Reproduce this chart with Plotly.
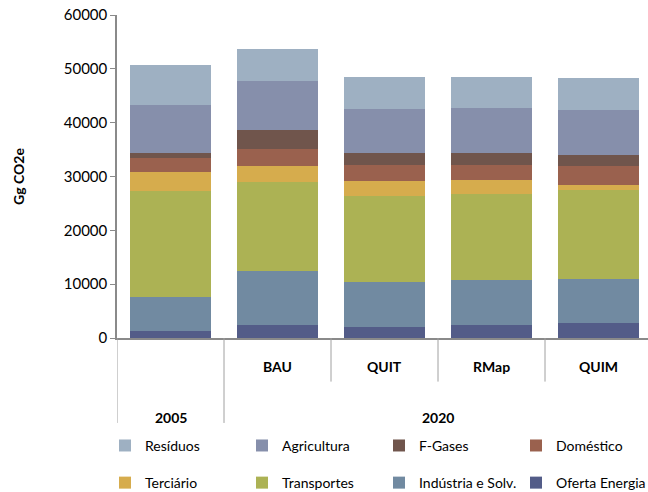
import plotly.graph_objects as go

# ---- data ----
categories = ["2005", "BAU", "QUIT", "RMap", "QUIM"]
inner_labels = ["", "BAU", "QUIT", "RMap", "QUIM"]
group_labels = ["2005", "2020"]
group_members = [["2005"], ["BAU", "QUIT", "RMap", "QUIM"]]

oferta_energia = [1300, 2400, 2000, 2400, 2800]
industria_solv = [6300, 10050, 8400, 8350, 8150]
transportes = [19700, 16530, 16000, 16000, 16550]
terciario = [3500, 2970, 2800, 2600, 930]
domestico = [2700, 3160, 3000, 2800, 3500]
f_gases = [900, 3590, 2200, 2230, 2050]
agricultura = [8900, 9040, 8200, 8350, 8350]
residuos = [7500, 5950, 5950, 5750, 5950]

y_tick_vals = [0, 10000, 20000, 30000, 40000, 50000, 60000]
y_tick_text = ["0", "10000", "20000", "30000", "40000", "50000", "60000"]

series = [
    ("Oferta Energia", oferta_energia, "#535c88", "legend2"),
    ("Indústria e Solv.", industria_solv, "#718aa1", "legend2"),
    ("Transportes", transportes, "#acb254", "legend2"),
    ("Terciário", terciario, "#d6ac4d", "legend2"),
    ("Doméstico", domestico, "#9a614e", "legend"),
    ("F-Gases", f_gases, "#70554c", "legend"),
    ("Agricultura", agricultura, "#868fab", "legend"),
    ("Resíduos", residuos, "#9eb0c2", "legend"),
]

FONT = "Lato, 'Open Sans', sans-serif"

fig = go.Figure()
for name, vals, color, lg in series:
    fig.add_trace(go.Bar(
        x=categories, y=vals, name=name,
        marker=dict(color=color, line=dict(width=0)),
        legend=lg,
    ))

# axis divider lines (multi-level category axis)
n = len(categories)
shapes = []
for i in range(n + 1):
    pos = i - 0.5
    outer = (i == 0) or (i == 1) or (i == n)
    y1 = -0.263 if outer else -0.135
    shapes.append(dict(type="line", xref="x", yref="paper",
                       x0=pos, x1=pos, y0=0, y1=y1,
                       line=dict(color="#a0a0a0", width=1)))

annotations = []
for cat, lab in zip(categories, inner_labels):
    if lab:
        annotations.append(dict(x=cat, y=-0.087, xref="x", yref="paper",
                                text="<b>%s</b>" % lab, showarrow=False,
                                font=dict(family=FONT, size=14, color="#000000"),
                                xanchor="center", yanchor="middle"))
for glab, members in zip(group_labels, group_members):
    idx = [categories.index(m) for m in members]
    center = (min(idx) + max(idx)) / 2.0
    annotations.append(dict(x=center, y=-0.245, xref="x", yref="paper",
                            text="<b>%s</b>" % glab, showarrow=False,
                            font=dict(family=FONT, size=14, color="#000000"),
                            xanchor="center", yanchor="middle"))

fig.update_layout(
    width=648, height=492,
    margin=dict(l=117, r=0, t=15, b=154, autoexpand=False),
    paper_bgcolor="white", plot_bgcolor="white",
    barmode="stack", bargap=0.252,
    font=dict(family=FONT, size=14, color="#000000"),
    showlegend=True,
    legend=dict(orientation="h", x=-0.0226, xanchor="left", y=-0.334, yanchor="middle",
                traceorder="reversed", entrywidth=92, entrywidthmode="pixels",
                font=dict(family=FONT, size=14), bgcolor="rgba(0,0,0,0)"),
    legend2=dict(orientation="h", x=-0.0226, xanchor="left", y=-0.449, yanchor="middle",
                 traceorder="reversed", entrywidth=92, entrywidthmode="pixels",
                 font=dict(family=FONT, size=14), bgcolor="rgba(0,0,0,0)"),
    shapes=shapes,
    annotations=annotations,
)

fig.update_xaxes(
    type="category", range=[-0.5, 4.4626],
    showticklabels=False, ticks="",
    showline=True, linecolor="#8a8a8a", linewidth=1.5,
    showgrid=False, zeroline=False,
)
fig.update_yaxes(
    range=[0, 60000], tickvals=y_tick_vals, ticktext=y_tick_text,
    ticks="outside", ticklen=5, tickcolor="#8a8a8a",
    showline=True, linecolor="#8a8a8a", linewidth=1.5,
    showgrid=False, zeroline=False,
    tickfont=dict(family=FONT, size=15, color="#000000"),
    title=dict(text="<b>Gg CO2e</b>", standoff=36,
               font=dict(family=FONT, size=14, color="#000000")),
)

fig.write_html("out.html")
